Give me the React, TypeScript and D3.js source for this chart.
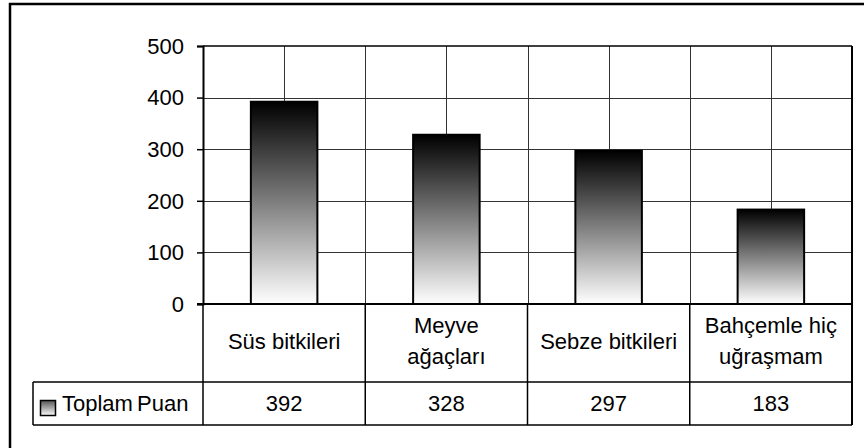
import { useEffect, useRef } from "react";
import * as d3 from "d3";

// data
const categories = ["Süs bitkileri", "Meyve\nağaçları", "Sebze bitkileri", "Bahçemle hiç\nuğraşmam"];
const values = [392, 328, 297, 183];
const seriesName = "Toplam Puan";
const yTicks = [0, 100, 200, 300, 400, 500];

const App = () => {
  const ref = useRef<SVGSVGElement>(null);

  useEffect(() => {
    const W = 864;
    const H = 448;
    const LEFT = 203;
    const RIGHT = 852;
    const TOP = 46;
    const BOTTOM = 304;
    const CAT_ROW = 382;
    const TABLE_BOTTOM = 425;
    const TABLE_LEFT = 33;
    const FONT = "'Liberation Sans', Arial, sans-serif";

    const svg = d3.select(ref.current);
    svg.selectAll("*").remove();
    svg.attr("width", W).attr("height", H);

    svg.append("rect").attr("width", W).attr("height", H).attr("fill", "#fff");

    const defs = svg.append("defs");
    const grad = defs
      .append("linearGradient")
      .attr("id", "barGrad")
      .attr("x1", 0).attr("y1", 0).attr("x2", 0).attr("y2", 1);
    grad.append("stop").attr("offset", "0%").attr("stop-color", "#000");
    grad.append("stop").attr("offset", "100%").attr("stop-color", "#fff");

    const keyGrad = defs
      .append("linearGradient")
      .attr("id", "keyGrad")
      .attr("x1", 0).attr("y1", 0).attr("x2", 0).attr("y2", 1);
    keyGrad.append("stop").attr("offset", "0%").attr("stop-color", "#555");
    keyGrad.append("stop").attr("offset", "100%").attr("stop-color", "#fafafa");

    // outer chart frame (runs off the right and bottom edges)
    svg.append("rect")
      .attr("x", 10).attr("y", 4)
      .attr("width", 900).attr("height", 500)
      .attr("fill", "none").attr("stroke", "#000").attr("stroke-width", 2.5);

    const x = d3.scaleBand<string>().domain(categories).range([LEFT, RIGHT]).padding(0);
    const y = d3.scaleLinear().domain([0, 500]).range([BOTTOM, TOP]);

    // gridlines
    const grid = svg.append("g").attr("stroke", "#333").attr("stroke-width", 1);
    yTicks.slice(1, -1).forEach((t) => {
      grid.append("line")
        .attr("x1", LEFT).attr("x2", RIGHT)
        .attr("y1", Math.round(y(t)) + 0.5).attr("y2", Math.round(y(t)) + 0.5);
    });
    categories.forEach((c) => {
      const x0 = x(c)!;
      [x0 + x.bandwidth() / 2, x0 + x.bandwidth()].forEach((gx) => {
        grid.append("line")
          .attr("x1", Math.round(gx) + 0.5).attr("x2", Math.round(gx) + 0.5)
          .attr("y1", TOP).attr("y2", BOTTOM);
      });
    });

    // bars
    const barW = x.bandwidth() * 0.41;
    svg.append("g")
      .selectAll("rect")
      .data(values)
      .enter()
      .append("rect")
      .attr("x", (d, i) => x(categories[i])! + (x.bandwidth() - barW) / 2)
      .attr("y", (d) => y(d))
      .attr("width", barW)
      .attr("height", (d) => BOTTOM - y(d))
      .attr("fill", "url(#barGrad)")
      .attr("stroke", "#000")
      .attr("stroke-width", 2);

    // plot frame
    svg.append("line").attr("x1", LEFT).attr("x2", RIGHT).attr("y1", TOP).attr("y2", TOP)
      .attr("stroke", "#000").attr("stroke-width", 1.5);
    svg.append("line").attr("x1", RIGHT).attr("x2", RIGHT).attr("y1", TOP).attr("y2", TABLE_BOTTOM)
      .attr("stroke", "#000").attr("stroke-width", 2);

    // y axis
    const yAxis = d3.axisLeft(y).tickValues(yTicks).tickSize(6).tickPadding(13);
    const ya = svg.append("g").attr("transform", `translate(${LEFT},0)`).call(yAxis);
    ya.select(".domain").attr("stroke", "#000").attr("stroke-width", 2);
    ya.selectAll(".tick line").attr("stroke", "#000").attr("stroke-width", 1.5);
    ya.selectAll(".tick text")
      .attr("font-family", FONT)
      .attr("font-size", 22)
      .attr("fill", "#000")
      .attr("dy", "0.33em");

    // x axis baseline
    svg.append("line").attr("x1", LEFT - 6).attr("x2", RIGHT).attr("y1", BOTTOM).attr("y2", BOTTOM)
      .attr("stroke", "#000").attr("stroke-width", 2);

    // data table
    const table = svg.append("g").attr("stroke", "#000").attr("stroke-width", 1.5);
    table.append("line").attr("x1", TABLE_LEFT).attr("x2", RIGHT).attr("y1", CAT_ROW).attr("y2", CAT_ROW);
    table.append("line").attr("x1", TABLE_LEFT).attr("x2", RIGHT).attr("y1", TABLE_BOTTOM).attr("y2", TABLE_BOTTOM);
    table.append("line").attr("x1", TABLE_LEFT).attr("x2", TABLE_LEFT).attr("y1", CAT_ROW).attr("y2", TABLE_BOTTOM);
    table.append("line").attr("x1", LEFT).attr("x2", LEFT).attr("y1", BOTTOM).attr("y2", TABLE_BOTTOM);
    categories.forEach((c) => {
      const bx = x(c)! + x.bandwidth();
      table.append("line").attr("x1", bx).attr("x2", bx).attr("y1", BOTTOM).attr("y2", TABLE_BOTTOM);
    });

    // category labels
    const labels = svg.append("g")
      .attr("font-family", FONT)
      .attr("font-size", 22)
      .attr("fill", "#000")
      .attr("text-anchor", "middle");
    categories.forEach((c) => {
      const lines = c.split("\n");
      const cx = x(c)! + x.bandwidth() / 2;
      const mid = 348.5;
      const step = 31;
      lines.forEach((ln, k) => {
        labels.append("text")
          .attr("x", cx)
          .attr("y", mid + (k - (lines.length - 1) / 2) * step)
          .text(ln);
      });
    });

    // value row
    values.forEach((v, i) => {
      labels.append("text")
        .attr("x", x(categories[i])! + x.bandwidth() / 2)
        .attr("y", 411)
        .text(String(v));
    });

    // legend key + series name
    svg.append("rect")
      .attr("x", 40.5).attr("y", 400.5)
      .attr("width", 15).attr("height", 15)
      .attr("fill", "url(#keyGrad)")
      .attr("stroke", "#000").attr("stroke-width", 1.5);
    svg.append("text")
      .attr("x", 62)
      .attr("y", 411)
      .attr("font-family", FONT)
      .attr("font-size", 22)
      .attr("fill", "#000")
      .attr("word-spacing", "-2px")
      .text(seriesName);
  }, []);

  return (
    <svg
      ref={ref}
      style={{ position: "absolute", left: 0, top: 0, display: "block" }}
    />
  );
};

export default App;
